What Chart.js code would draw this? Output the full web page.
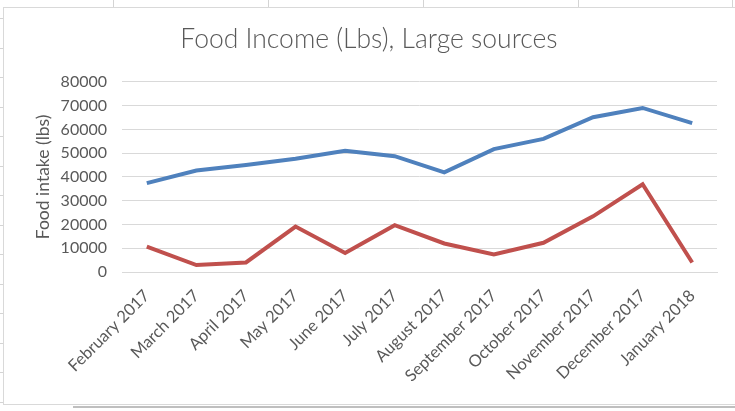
<!DOCTYPE html>
<html>
<head>
<meta charset="utf-8">
<script src="https://cdn.jsdelivr.net/npm/chart.js@4/dist/chart.umd.min.js"></script>
<style>
    body { margin: 0; background: #fff; width: 735px; height: 411px; overflow: hidden; position: relative; }
    .cell-v { position: absolute; top: 0; width: 1px; height: 7px; background: #d4d4d4; }
    .cell-h { position: absolute; left: 0; width: 3px; height: 1px; background: #d4d4d4; }
    #box { position: absolute; left: 3px; top: 7px; width: 740px; height: 396px; border: 1px solid #d9d9d9; background: #fff; }
    #below { position: absolute; left: 73px; top: 406px; width: 670px; height: 2px; background: #bfbfbf; }
    #chart { position: absolute; left: 0; top: 0; }
</style>
</head>
<body>
<div class="cell-v" style="left:113px"></div>
<div class="cell-v" style="left:268px"></div>
<div class="cell-v" style="left:423px"></div>
<div class="cell-v" style="left:578px"></div>
<div class="cell-v" style="left:732px"></div>
<div id="rows"></div>
<div id="box"></div>
<div id="below"></div>
<canvas id="chart" width="735" height="411"></canvas>
<script>
// Months on the category axis
const months = [
    'February 2017', 'March 2017', 'April 2017', 'May 2017', 'June 2017', 'July 2017',
    'August 2017', 'September 2017', 'October 2017', 'November 2017', 'December 2017', 'January 2018'
];

// Two series (lbs)
const seriesBlue = [37400, 42700, 45000, 47600, 51000, 48700, 41900, 51700, 56000, 65100, 69000, 62600];
const seriesRed = [10700, 2900, 4000, 19100, 8000, 19700, 12000, 7400, 12300, 23400, 36900, 4000];

// Y axis ticks
const yMin = 0;
const yMax = 80000;
const yStep = 10000;

// spreadsheet row marks to the left of the chart box
const rows = document.getElementById('rows');
for (let y = 18; y < 411; y += 29.5) {
    const d = document.createElement('div');
    d.className = 'cell-h';
    d.style.top = Math.round(y) + 'px';
    rows.appendChild(d);
}

const textColor = '#595959';
const plotLeft = 122;
const plotBottom = 272;
const padLeft = 21;

const ctx = document.getElementById('chart').getContext('2d');

new Chart(ctx, {
    type: 'line',
    data: {
        labels: months,
        datasets: [
            {
                label: 'Series 1',
                data: seriesBlue,
                borderColor: '#4F81BD',
                backgroundColor: '#4F81BD',
                borderWidth: 4,
                pointRadius: 0,
                tension: 0
            },
            {
                label: 'Series 2',
                data: seriesRed,
                borderColor: '#C0504D',
                backgroundColor: '#C0504D',
                borderWidth: 4,
                pointRadius: 0,
                tension: 0
            }
        ]
    },
    options: {
        responsive: false,
        animation: false,
        layout: { padding: { left: padLeft, right: 18, top: 0, bottom: 0 } },
        scales: {
            x: {
                offset: true,
                grid: { display: false },
                border: { color: '#d9d9d9' },
                ticks: {
                    color: textColor,
                    font: { family: 'Lato', size: 16.5 },
                    minRotation: 45,
                    maxRotation: 45,
                    autoSkip: false,
                    padding: 6
                },
                afterFit: (scale) => { scale.height = 411 - plotBottom; }
            },
            y: {
                min: yMin,
                max: yMax,
                grid: { color: '#d9d9d9', drawTicks: false },
                border: { display: false },
                ticks: {
                    stepSize: yStep,
                    color: textColor,
                    font: { family: 'Lato', size: 16 },
                    padding: 15,
                    callback: (v) => String(v)
                },
                title: {
                    display: true,
                    text: 'Food intake (lbs)',
                    color: textColor,
                    font: { family: 'Lato', size: 17.5 },
                    padding: { top: 12, bottom: 0 }
                },
                afterFit: (scale) => { scale.width = plotLeft - padLeft; }
            }
        },
        plugins: {
            legend: { display: false },
            tooltip: { enabled: false },
            title: {
                display: true,
                text: 'Food Income (Lbs), Large sources',
                color: textColor,
                font: { family: 'Lato', size: 26.5, weight: 300 },
                padding: { top: 24, bottom: 26 }
            }
        }
    }
});
</script>
</body>
</html>
